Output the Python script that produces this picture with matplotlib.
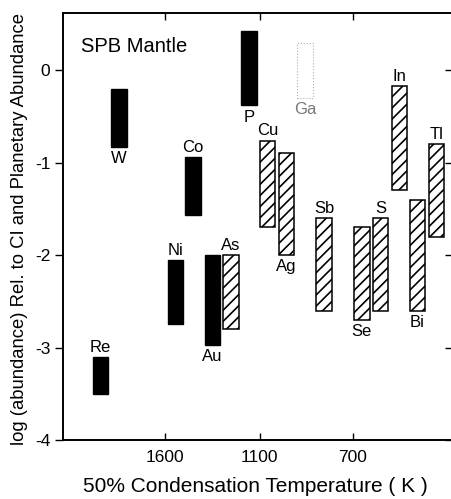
import numpy as np
import matplotlib.pyplot as plt

plt.rcParams['font.family'] = ['Liberation Sans', 'DejaVu Sans']
plt.rcParams['hatch.linewidth'] = 1.2

# Siderophile / chalcophile elements: 50% condensation temperature (K)
# and the range of log abundance relative to CI and planetary abundance
elements = ['Re', 'W', 'Ni', 'Co', 'Au', 'As', 'P', 'Cu', 'Ag', 'Ga',
            'Sb', 'Se', 'S', 'In', 'Bi', 'Tl']
temps = [1943, 1847, 1547, 1454, 1350, 1252, 1156, 1066, 984, 904,
         823, 661, 582, 500, 423, 341]
low = [-3.5, -0.83, -2.75, -1.57, -2.97, -2.8, -0.38, -1.7, -2.0, -0.3,
       -2.6, -2.7, -2.6, -1.3, -2.6, -1.8]
high = [-3.1, -0.2, -2.05, -0.94, -2.0, -2.0, 0.43, -0.76, -0.9, 0.3,
        -1.6, -1.7, -1.6, -0.17, -1.4, -0.8]
kind = ['solid', 'solid', 'solid', 'solid', 'solid', 'hatch', 'solid', 'hatch',
        'hatch', 'dotted', 'hatch', 'hatch', 'hatch', 'hatch', 'hatch', 'hatch']
label_side = ['top', 'bottom', 'top', 'top', 'bottom', 'top', 'bottom', 'top',
              'bottom', 'bottom', 'top', 'bottom', 'top', 'top', 'bottom', 'top']

xticks = [1600, 1100, 700]
yticks = [0, -1, -2, -3, -4]

# temperature axis is stretched piecewise between the labelled ticks
t_nodes = [0, 700, 1100, 1600, 2400]
u_nodes = [-349.75, -187.0, -94.0, 0.0, 150.4]


def forward(t):
    return np.interp(t, t_nodes, u_nodes)


def inverse(u):
    return np.interp(u, u_nodes, t_nodes)


fig = plt.figure(figsize=(4.52, 4.99), dpi=100)
ax = fig.add_axes([63 / 452, 59 / 499, 390 / 452, 427 / 499])
ax.set_xscale('function', functions=(forward, inverse))
ax.set_xlim(2143, 270)
ax.set_ylim(-4, 0.62)

half = 7.75
for el, t, lo, hi, k, side in zip(elements, temps, low, high, kind, label_side):
    left = inverse(forward(t) + half)
    right = inverse(forward(t) - half)
    if k == 'solid':
        ax.bar(left, hi - lo, width=right - left, bottom=lo, align='edge',
               color='black', edgecolor='black', linewidth=1)
    elif k == 'hatch':
        ax.bar(left, hi - lo, width=right - left, bottom=lo, align='edge',
               color='white', edgecolor='black', linewidth=1.1, hatch='///')
    else:
        ax.bar(left, hi - lo, width=right - left, bottom=lo, align='edge',
               color='none', edgecolor='#b0b0b0', linewidth=0.8, linestyle=':')
    if side == 'top':
        ax.annotate(el, (t, hi), xytext=(0, 7), textcoords='offset points',
                    ha='center', va='center', fontsize=12)
    else:
        ax.annotate(el, (t, lo), xytext=(0, -8.5), textcoords='offset points',
                    ha='center', va='center', fontsize=12,
                    color='#777777' if k == 'dotted' else 'black')

ax.text((81 - 63) / 390, 1 - 33 / 427, 'SPB Mantle', transform=ax.transAxes,
        ha='left', va='center', fontsize=14.5, zorder=5)

ax.set_xticks(xticks)
ax.set_xticklabels([str(v) for v in xticks])
ax.set_yticks(yticks)
ax.set_yticklabels(['0', '-1', '-2', '-3', '-4'])
ax.xaxis.set_minor_locator(plt.NullLocator())
ax.tick_params(axis='x', direction='in', top=True, length=5, width=1,
               labelsize=12.5, pad=7)
ax.tick_params(axis='y', direction='out', left=True, right=False, length=6,
               width=1, labelsize=12.5, pad=3)

# inward ticks along the right-hand edge
ax2 = ax.secondary_yaxis('right')
ax2.set_yticks(yticks)
ax2.tick_params(direction='in', length=6, width=1, labelright=False)

for s in ax.spines.values():
    s.set_linewidth(1.4)
ax.spines['right'].set_visible(False)
ax2.spines['right'].set_visible(False)

ax.set_xlabel('50% Condensation Temperature ( K )', fontsize=15)
ax.xaxis.set_label_coords((255.5 - 63) / 390, -37 / 427)
ax.set_ylabel('log (abundance) Rel. to CI and Planetary Abundance',
              fontsize=13.3)
ax.yaxis.set_label_coords((28 - 63) / 390, (440 - 229) / 427)

fig.savefig('out.png', dpi=100)
